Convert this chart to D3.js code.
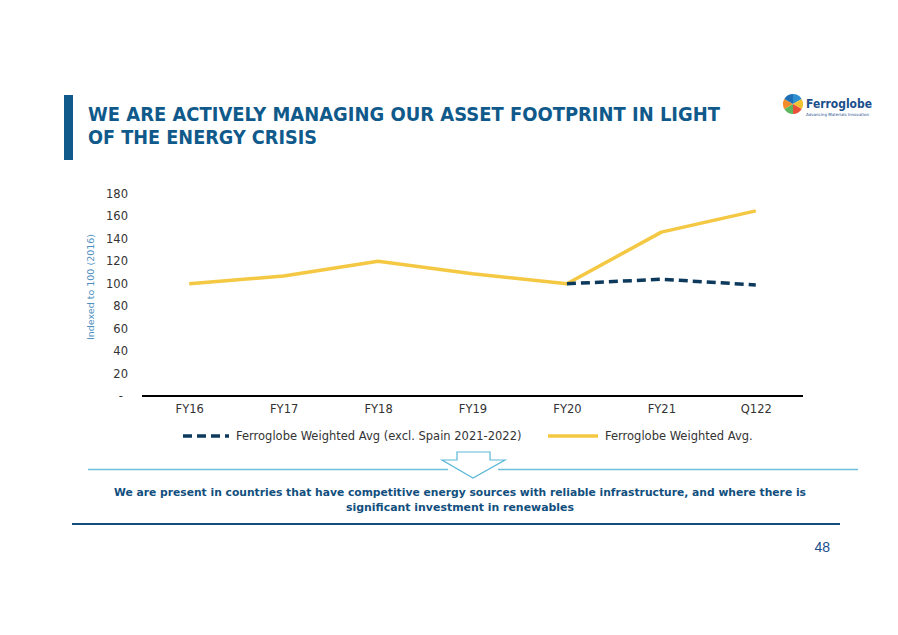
<!DOCTYPE html>
<html><head><meta charset="utf-8">
<script src="https://cdn.jsdelivr.net/npm/d3@7"></script>
<style>body{margin:0;background:#fff}svg{display:block}</style>
</head><body>
<script>
const categories = ["FY16","FY17","FY18","FY19","FY20","FY21","Q122"];
const weightedAvg = [100,107,120,109,100,146,165];
const exclSpain = [null,null,null,null,100,104,99];
const yTicks = [0,20,40,60,80,100,120,140,160,180];
const seriesNames = ["Ferroglobe Weighted Avg (excl. Spain 2021-2022)","Ferroglobe Weighted Avg."];

const W=898,H=635;
const svg=d3.select("body").append("svg").attr("width",W).attr("height",H);
const font="'DejaVu Sans', sans-serif";
const navy="#105a8b";

// title bar
svg.append("rect").attr("x",64).attr("y",95).attr("width",9).attr("height",65).attr("fill",navy);
const title=svg.append("text").attr("font-family",font).attr("font-weight","bold").attr("font-size",20).attr("fill",navy);
title.append("tspan").attr("x",88).attr("y",121).text("WE ARE ACTIVELY MANAGING OUR ASSET FOOTPRINT IN LIGHT").attr("textLength",632).attr("lengthAdjust","spacingAndGlyphs");
title.append("tspan").attr("x",88).attr("y",144).text("OF THE ENERGY CRISIS").attr("textLength",229).attr("lengthAdjust","spacingAndGlyphs");

// logo
const lg=svg.append("g").attr("transform","translate(793,104)");
const cols=["#2e8fd0","#f2c230","#e8503a","#5cb85c","#f28c28","#1f6fb5"];
const arc=d3.arc().innerRadius(0).outerRadius(10);
d3.pie().value(1)(cols).forEach((p,i)=>lg.append("path").attr("d",arc(p)).attr("fill",cols[i]));
svg.append("text").attr("x",806).attr("y",108).attr("font-family",font).attr("font-weight","bold").attr("font-size",12.5).attr("fill","#1b4f8c").text("Ferroglobe").attr("textLength",66).attr("lengthAdjust","spacingAndGlyphs");
svg.append("text").attr("x",806).attr("y",116).attr("font-family",font).attr("font-size",4).attr("fill","#1b4f8c").text("Advancing Materials Innovation");

// scales
const x=d3.scalePoint().domain(categories).range([142,803]).padding(0.5);
const y=d3.scaleLinear().domain([0,180]).range([396,194]);

// y tick labels
const yg=svg.append("g").attr("font-family",font).attr("font-size",11.5).attr("fill","#333");
yTicks.forEach(t=>{
  yg.append("text").attr("x",t===0?123:128).attr("y",y(t)).attr("dy","0.35em").attr("text-anchor","end").text(t===0?"-":t);
});
// y label
svg.append("text").attr("transform","translate(94,287) rotate(-90)").attr("text-anchor","middle")
  .attr("font-family",font).attr("font-size",9.5).attr("fill","#4f8fbf").text("Indexed to 100 (2016)");

// x axis
const xa=svg.append("g").attr("transform","translate(0,396)").call(d3.axisBottom(x).tickSize(0).tickPadding(9));
xa.select(".domain").attr("d","M142,0H803").attr("stroke","#000").attr("stroke-width",2);
xa.selectAll("text").attr("font-family",font).attr("font-size",11.5).attr("fill","#333");

// lines
const line=d3.line().defined(d=>d.v!=null).x(d=>x(d.c)).y(d=>y(d.v));
svg.append("path").datum(categories.map((c,i)=>({c,v:weightedAvg[i]})))
  .attr("d",line).attr("fill","none").attr("stroke","#f4c842").attr("stroke-width",3.5).attr("stroke-linejoin","round");
svg.append("path").datum(categories.map((c,i)=>({c,v:exclSpain[i]})))
  .attr("d",line).attr("fill","none").attr("stroke","#0d3a5c").attr("stroke-width",3.5).attr("stroke-dasharray","9,5");

// legend
const lgd=svg.append("g").attr("font-family",font).attr("font-size",11.5).attr("fill","#333");
lgd.append("line").attr("x1",183).attr("x2",229).attr("y1",436).attr("y2",436).attr("stroke","#0d3a5c").attr("stroke-width",3.5).attr("stroke-dasharray","9,5");
lgd.append("text").attr("x",236).attr("y",436).attr("dy","0.35em").text(seriesNames[0]);
lgd.append("line").attr("x1",548).attr("x2",598).attr("y1",436).attr("y2",436).attr("stroke","#f4c842").attr("stroke-width",3.5);
lgd.append("text").attr("x",605).attr("y",436).attr("dy","0.35em").text(seriesNames[1]);

// separator with arrow
svg.append("line").attr("x1",88).attr("x2",448).attr("y1",469.5).attr("y2",469.5).attr("stroke","#6cc0dc").attr("stroke-width",1.5);
svg.append("line").attr("x1",498).attr("x2",858).attr("y1",469.5).attr("y2",469.5).attr("stroke","#6cc0dc").attr("stroke-width",1.5);
svg.append("path").attr("d","M457,452H490V460H505L473,478L442,460H457Z").attr("fill","#fff").attr("stroke","#5bb8d8").attr("stroke-width",1.2);

// message
const msg=svg.append("text").attr("font-family",font).attr("font-weight","bold").attr("font-size",11).attr("fill","#124f7e").attr("text-anchor","middle");
msg.append("tspan").attr("x",460).attr("y",496).text("We are present in countries that have competitive energy sources with reliable infrastructure, and where there is").attr("textLength",692).attr("lengthAdjust","spacingAndGlyphs");
msg.append("tspan").attr("x",460).attr("y",511).text("significant investment in renewables").attr("textLength",228).attr("lengthAdjust","spacingAndGlyphs");
svg.append("line").attr("x1",72).attr("x2",840).attr("y1",524).attr("y2",524).attr("stroke","#124f7e").attr("stroke-width",2);

svg.append("text").attr("x",830).attr("y",552).attr("text-anchor","end").attr("font-family","'Liberation Sans', sans-serif").attr("font-size",14).attr("fill","#1b4f8c").text("48");
</script>
</body></html>
